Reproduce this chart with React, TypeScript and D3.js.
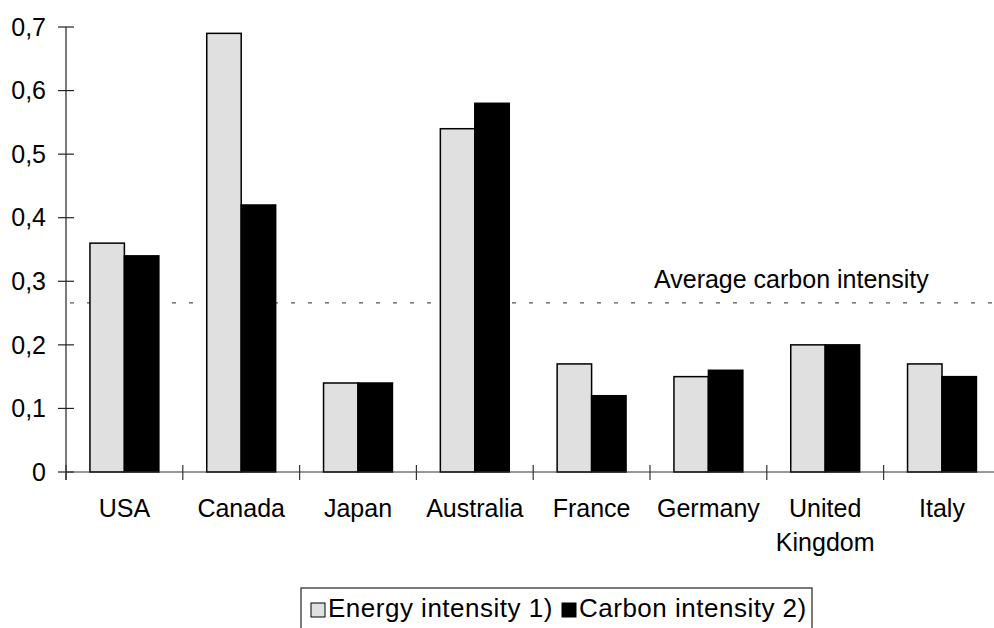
import React from "react";
import * as d3 from "d3";

const categories: string[][] = [
  ["USA"],
  ["Canada"],
  ["Japan"],
  ["Australia"],
  ["France"],
  ["Germany"],
  ["United", "Kingdom"],
  ["Italy"],
];
const energyIntensity = [0.36, 0.69, 0.14, 0.54, 0.17, 0.15, 0.2, 0.17];
const carbonIntensity = [0.34, 0.42, 0.14, 0.58, 0.12, 0.16, 0.2, 0.15];
const averageCarbon = 0.266;
const yTicks = [0, 0.1, 0.2, 0.3, 0.4, 0.5, 0.6, 0.7];
const seriesNames = ["Energy intensity 1)", "Carbon intensity 2)"];
const seriesColors = ["#e0e0e0", "#000000"];

const W = 994;
const H = 628;
const FONT = "'Liberation Sans', Arial, sans-serif";

export default function App() {
  const x0 = 66;
  const step = 116.8;
  const keys = categories.map((c) => c.join(" "));
  const x = d3
    .scaleBand<string>()
    .domain(keys)
    .range([x0, x0 + step * keys.length])
    .paddingInner(0.41)
    .paddingOuter(0.205);
  const xs = d3.scaleBand<number>().domain([0, 1]).range([0, x.bandwidth()]);
  const y = d3.scaleLinear().domain([0, 0.7]).range([472, 27]);
  const series = [energyIntensity, carbonIntensity];
  const fmt = (v: number) => (v === 0 ? "0" : d3.format(".1f")(v).replace(".", ","));
  const boundaries = d3.range(keys.length).map((i) => x0 + i * step);
  const yAvg = y(averageCarbon);

  return (
    <svg
      width={W}
      height={H}
      style={{ position: "absolute", left: 0, top: 0, background: "#fff" }}
      fontFamily={FONT}
    >
      {/* average line */}
      <line x1={x0 + 4} x2={W} y1={yAvg} y2={yAvg} stroke="#555" strokeWidth={1.2} strokeDasharray="4,13" />
      <text x={654} y={yAvg - 15} fontSize={25} fill="#000">
        Average carbon intensity
      </text>

      {/* bars */}
      {keys.map((k, i) =>
        series.map((s, j) => (
          <rect
            key={k + j}
            x={(x(k) as number) + (xs(j) as number)}
            y={y(s[i])}
            width={xs.bandwidth()}
            height={y(0) - y(s[i])}
            fill={seriesColors[j]}
            stroke="#000"
            strokeWidth={1.5}
          />
        ))
      )}

      {/* y axis */}
      <line x1={x0} x2={x0} y1={y(0.7)} y2={y(0) + 8} stroke="#222" strokeWidth={1.2} />
      {yTicks.map((t) => (
        <g key={t}>
          <line x1={x0 - 8} x2={x0 + 8} y1={y(t)} y2={y(t)} stroke="#222" strokeWidth={1.2} />
          <text x={46} y={y(t)} dy="0.35em" textAnchor="end" fontSize={25} fill="#000">
            {fmt(t)}
          </text>
        </g>
      ))}

      {/* x axis */}
      <line x1={x0} x2={W} y1={y(0)} y2={y(0)} stroke="#333" strokeWidth={1.2} />
      {boundaries.map((b, i) => (
        <line key={i} x1={b} x2={b} y1={y(0) - 7} y2={y(0) + 8} stroke="#333" strokeWidth={1.2} />
      ))}
      {categories.map((c, i) => (
        <text
          key={i}
          x={(x(keys[i]) as number) + x.bandwidth() / 2}
          y={517}
          textAnchor="middle"
          fontSize={25}
          fill="#000"
        >
          {c.map((line, li) => (
            <tspan key={li} x={(x(keys[i]) as number) + x.bandwidth() / 2} dy={li === 0 ? 0 : 34}>
              {line}
            </tspan>
          ))}
        </text>
      ))}

      {/* legend */}
      <rect x={301} y={588} width={511} height={60} fill="#fff" stroke="#222" strokeWidth={1.2} />
      {seriesNames.map((n, j) => {
        const sx = j === 0 ? 311 : 562;
        return (
          <g key={n}>
            <rect x={sx} y={603} width={14} height={14} fill={seriesColors[j]} stroke="#000" strokeWidth={1} />
            <text x={sx + 17} y={617} fontSize={26} letterSpacing={0.5} fill="#000">
              {n}
            </text>
          </g>
        );
      })}
    </svg>
  );
}
